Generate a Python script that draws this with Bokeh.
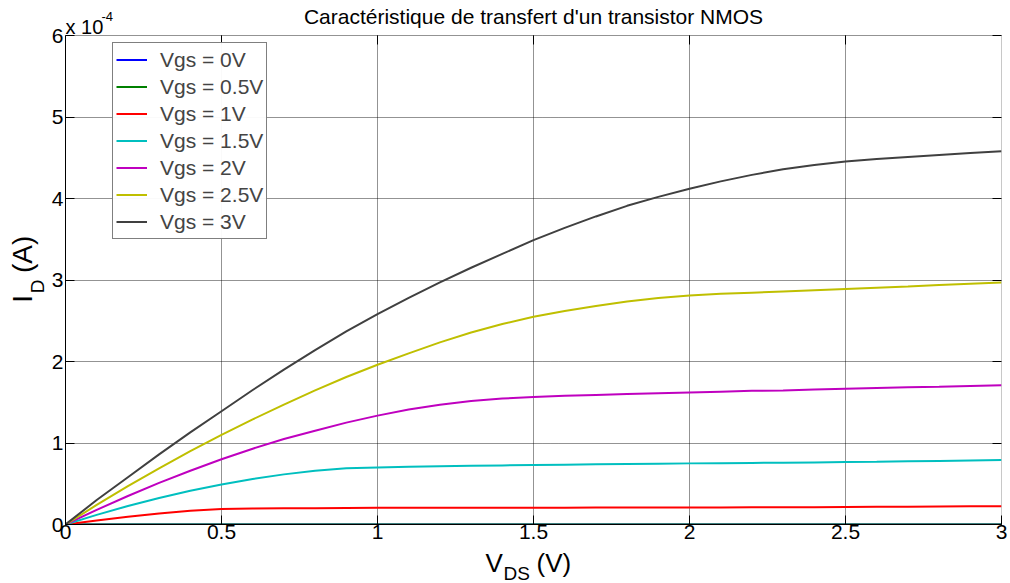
import math
from bokeh.plotting import figure
from bokeh.layouts import column, row
from bokeh.models import Range1d, FixedTicker, LinearAxis, Legend, LegendItem, Label
from bokeh.embed import file_html
from bokeh.resources import INLINE

# ---------------- data (I_D in units of 1e-4 A) ----------------
vds = [0.0, 0.1, 0.2, 0.3, 0.4, 0.5, 0.6, 0.7, 0.8, 0.9, 1.0,
       1.1, 1.2, 1.3, 1.4, 1.5, 1.6, 1.7, 1.8, 1.9, 2.0,
       2.1, 2.2, 2.3, 2.4, 2.5, 2.6, 2.7, 2.8, 2.9, 3.0]

id_vgs_0 = [0.0] * 31
id_vgs_05 = [0.0] * 31
id_vgs_1 = [0, 0.05, 0.095, 0.135, 0.17, 0.19, 0.197, 0.199, 0.20, 0.202, 0.204,
            0.205, 0.205, 0.206, 0.206, 0.207, 0.207, 0.208, 0.208, 0.209, 0.209,
            0.21, 0.211, 0.212, 0.213, 0.215, 0.217, 0.219, 0.221, 0.223, 0.225]
id_vgs_15 = [0, 0.118, 0.227, 0.325, 0.413, 0.49, 0.558, 0.615, 0.66, 0.69, 0.70,
             0.71, 0.715, 0.72, 0.725, 0.73, 0.734, 0.738, 0.742, 0.746, 0.75,
             0.753, 0.756, 0.759, 0.762, 0.766, 0.77, 0.775, 0.78, 0.785, 0.79]
id_vgs_2 = [0, 0.18, 0.35, 0.51, 0.66, 0.80, 0.93, 1.05, 1.15, 1.25, 1.336,
            1.41, 1.47, 1.515, 1.545, 1.565, 1.58, 1.59, 1.60, 1.61, 1.62,
            1.63, 1.64, 1.645, 1.655, 1.665, 1.675, 1.685, 1.69, 1.70, 1.71]
id_vgs_25 = [0, 0.24, 0.47, 0.69, 0.90, 1.10, 1.29, 1.47, 1.645, 1.81, 1.96,
             2.10, 2.235, 2.355, 2.46, 2.55, 2.62, 2.68, 2.735, 2.78, 2.81,
             2.83, 2.845, 2.86, 2.875, 2.89, 2.905, 2.92, 2.94, 2.955, 2.97]
id_vgs_3 = [0, 0.30, 0.58, 0.86, 1.13, 1.39, 1.65, 1.90, 2.14, 2.37, 2.58,
            2.78, 2.97, 3.15, 3.32, 3.49, 3.64, 3.78, 3.91, 4.02, 4.12,
            4.21, 4.29, 4.36, 4.41, 4.455, 4.485, 4.51, 4.535, 4.558, 4.58]

series_labels = ["Vgs = 0V", "Vgs = 0.5V", "Vgs = 1V", "Vgs = 1.5V",
                 "Vgs = 2V", "Vgs = 2.5V", "Vgs = 3V"]
series_values = [id_vgs_0, id_vgs_05, id_vgs_1, id_vgs_15, id_vgs_2, id_vgs_25, id_vgs_3]
series_colors = ["#0000FF", "#008000", "#FF0000", "#00BFBF", "#BF00BF", "#BFBF00", "#404040"]

x_ticks = [0, 0.5, 1, 1.5, 2, 2.5, 3]
x_tick_labels = ["0", "0.5", "1", "1.5", "2", "2.5", "3"]
y_ticks = [0, 1, 2, 3, 4, 5, 6]
y_tick_labels = ["0", "1", "2", "3", "4", "5", "6"]

title_text = "Caractéristique de transfert d'un transistor NMOS"
FONT = "Liberation Sans"
MID = 0.3465          # baseline -> centre of text box, in em

# ---------------- geometry (page pixels, page has no margin) ----------------
TOTAL_W, TOTAL_H = 1010, 583
LEFT_W = 48
MAIN_W, MAIN_H = TOTAL_W - LEFT_W, 548
BOTTOM_H = TOTAL_H - MAIN_H
FRAME_L, FRAME_R, FRAME_B, Y6 = 65, 1001, 524, 35   # page px
M_LEFT = FRAME_L - LEFT_W
M_RIGHT = TOTAL_W - FRAME_R
M_BOTTOM = MAIN_H - FRAME_B
PX_PER_Y = (FRAME_B - Y6) / 6.0
Y_TOP = FRAME_B / PX_PER_Y                 # frame reaches the canvas top
PX_PER_X = (FRAME_R - FRAME_L) / 3.0

def yd(py):
    return (FRAME_B - py) / PX_PER_Y

def xd(px):
    return (px - FRAME_L) / PX_PER_X

GRID_KW = dict(line_color="black", line_alpha=0.85, line_dash="1 1", line_width=1)

# ---------------- main figure ----------------
p = figure(width=MAIN_W, height=MAIN_H, output_backend="svg", toolbar_location=None,
           x_range=Range1d(0, 3), y_range=Range1d(0, Y_TOP),
           min_border_left=M_LEFT, min_border_right=M_RIGHT,
           min_border_top=0, min_border_bottom=M_BOTTOM,
           background_fill_color="white", border_fill_color="white")
p.outline_line_color = None
p.xgrid.visible = False

# vertical dotted grid lines limited to the 0..6 data box
n = len(x_ticks)
p.segment(x0=x_ticks, y0=[y_ticks[0]] * n, x1=x_ticks, y1=[y_ticks[-1]] * n, **GRID_KW)
# small inward ticks along the top of the box
tick_len = 9 / PX_PER_Y
p.segment(x0=x_ticks[1:-1], y0=[y_ticks[-1]] * (n - 2), x1=x_ticks[1:-1],
          y1=[y_ticks[-1] - tick_len] * (n - 2), line_color="black", line_width=1)

renderers = []
for vals, col in zip(series_values, series_colors):
    renderers.append(p.line(vds, vals, line_color=col, line_width=2))

def style_axis(ax, labels=True):
    ax.major_tick_in = 9
    ax.major_tick_out = 0
    ax.minor_tick_line_color = None
    ax.major_tick_line_color = "black"
    ax.major_label_text_font = FONT
    if labels:
        ax.major_label_text_font_size = "21px"
        ax.major_label_text_color = "black"
    else:
        ax.major_label_text_font_size = "1px"
        ax.major_label_text_color = None
        ax.major_label_standoff = 0

xa = p.xaxis[0]
xa.ticker = FixedTicker(ticks=x_ticks)
xa.major_label_overrides = {t: l for t, l in zip(x_ticks, x_tick_labels)}
xa.axis_line_color = "black"
xa.major_label_standoff = 0
style_axis(xa)

ya = p.yaxis[0]
ya.ticker = FixedTicker(ticks=y_ticks)
ya.major_label_overrides = {t: l for t, l in zip(y_ticks, y_tick_labels)}
ya.axis_line_color = "black"
ya.bounds = (y_ticks[0], y_ticks[-1])
ya.major_label_standoff = 2
style_axis(ya)

right_ax = LinearAxis(ticker=FixedTicker(ticks=y_ticks), axis_line_color=None,
                      bounds=(y_ticks[0], y_ticks[-1]))
style_axis(right_ax, labels=False)
p.add_layout(right_ax, "right")

yg = p.ygrid[0]
yg.ticker = FixedTicker(ticks=y_ticks)
yg.grid_line_color = "black"
yg.grid_line_alpha = 0.85
yg.grid_line_dash = "1 1"

# legend
items = [LegendItem(label=l, renderers=[r]) for l, r in zip(series_labels, renderers)]
legend = Legend(items=items, location=(47, 285))
legend.label_text_font = FONT
legend.label_text_font_size = "21px"
legend.glyph_width = 31
legend.glyph_height = 27
legend.label_height = 27
legend.spacing = 0
legend.padding = 3
legend.margin = 0
legend.label_standoff = 13
legend.border_line_color = "black"
legend.border_line_width = 1.5
p.add_layout(legend, "center")

def mid(baseline, size):
    """centre of the text box for a given baseline position"""
    return baseline - MID * size

# title and exponent inside the (extended) frame
p.add_layout(Label(x=1.5, y=yd(mid(23, 21)), text=title_text, text_font=FONT,
                   text_font_size="21px", text_align="center",
                   text_baseline="middle", text_color="black"))
p.add_layout(Label(x=0, y=yd(mid(33, 20)), text="x 10", text_font=FONT,
                   text_font_size="20px", text_align="left",
                   text_baseline="middle", text_color="black"))
p.add_layout(Label(x=xd(101), y=yd(mid(21, 13)), text="-4", text_font=FONT,
                   text_font_size="13px", text_align="left",
                   text_baseline="middle", text_color="black"))

# ---------------- helper figures for axis titles ----------------
def text_fig(w, h):
    f = figure(width=w, height=h, output_backend="svg", toolbar_location=None,
               x_range=Range1d(0, w), y_range=Range1d(h, 0),
               x_axis_type=None, y_axis_type=None, min_border=0,
               background_fill_color="white", border_fill_color="white")
    f.outline_line_color = None
    return f

def put(f, txt, x, y, size, align="left", angle=0.0):
    f.add_layout(Label(x=x, y=y, text=txt, text_font=FONT, text_font_size=f"{size}px",
                       text_color="black", text_align=align,
                       text_baseline="middle", angle=angle))

# y label  I_D (A)  (rotated, placed by the centre of each piece)
left_fig = text_fig(LEFT_W, MAIN_H)
put(left_fig, "I", mid(32, 28), 312, 28, "center", math.pi / 2)
put(left_fig, "D", mid(44, 19), 299, 19, "center", math.pi / 2)
put(left_fig, "(A)", mid(32, 28), 265.5, 28, "center", math.pi / 2)

# x label  V_DS (V)
Y0 = MAIN_H  # page y of the bottom strip
bottom_fig = text_fig(TOTAL_W, BOTTOM_H)
put(bottom_fig, "V", 485, mid(572, 26) - Y0, 26)
put(bottom_fig, "DS", 503, mid(580, 19) - Y0, 19)
put(bottom_fig, "(V)", 536, mid(572, 26) - Y0, 26)

layout = column(row(left_fig, p, spacing=0), bottom_fig, spacing=0)

open("out.html", "w").write(file_html(layout, INLINE))
